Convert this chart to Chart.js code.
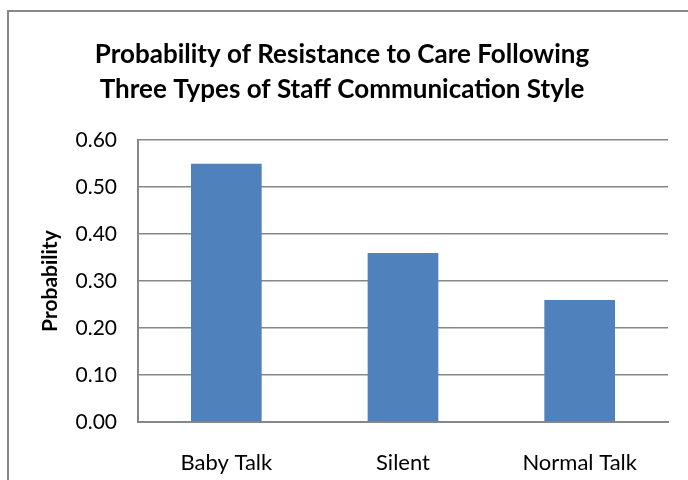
<!DOCTYPE html>
<html>
<head>
<meta charset="utf-8">
<script src="https://cdn.jsdelivr.net/npm/chart.js@4.4.0/dist/chart.umd.min.js"></script>
<style>
  html, body { margin: 0; padding: 0; background: #fff; }
  #wrap { width: 688px; height: 480px; }
</style>
</head>
<body>
<div id="wrap"><canvas id="chart" width="688" height="480"></canvas></div>
<script>
// chart data
const categories = ['Baby Talk', 'Silent', 'Normal Talk'];
const probabilities = [0.55, 0.36, 0.26];
const titleLines = ['Probability of Resistance to Care Following', 'Three Types of Staff Communication Style'];
const yAxisTitle = 'Probability';

const FONT = 'Lato, "Open Sans", sans-serif';
const GRAY = '#878787';

// outer frame like the Excel chart area border (right/bottom are cut off)
const framePlugin = {
    id: 'frame',
    beforeDraw(chart) {
        const ctx = chart.ctx;
        ctx.save();
        ctx.fillStyle = '#fff';
        ctx.fillRect(0, 0, chart.width, chart.height);
        ctx.strokeStyle = GRAY;
        ctx.lineWidth = 2;
        ctx.strokeRect(8, 11, 720, 520);
        ctx.restore();
    }
};

const ctx = document.getElementById('chart').getContext('2d');
new Chart(ctx, {
    type: 'bar',
    data: {
        labels: categories,
        datasets: [{
            label: yAxisTitle,
            data: probabilities,
            backgroundColor: '#4F81BD',
            borderWidth: 0,
            barPercentage: 0.4,
            categoryPercentage: 1
        }]
    },
    options: {
        responsive: false,
        animation: false,
        layout: { padding: { top: 0, right: 20, bottom: 0, left: 16 } },
        plugins: {
            legend: { display: false },
            tooltip: { enabled: false },
            title: {
                display: true,
                text: titleLines,
                color: '#000',
                font: { family: FONT, size: 26, weight: 'bold', lineHeight: 1.35 },
                padding: { top: 37, bottom: 33 }
            }
        },
        scales: {
            x: {
                grid: { display: false, drawTicks: false },
                border: { display: true, color: GRAY, width: 2 },
                ticks: { color: '#000', font: { family: FONT, size: 22 }, padding: 28 },
                afterFit(scale) { scale.height = 58; }
            },
            y: {
                min: 0,
                max: 0.6,
                grid: { color: GRAY, lineWidth: 1.5, drawTicks: false },
                border: { display: true, color: GRAY, width: 2 },
                ticks: {
                    stepSize: 0.1,
                    color: '#000',
                    padding: 21,
                    font: { family: FONT, size: 21 },
                    callback: v => v.toFixed(2)
                },
                title: {
                    display: true,
                    text: yAxisTitle,
                    color: '#000',
                    font: { family: FONT, size: 21, weight: 'bold' },
                    padding: { top: 22, bottom: 0 }
                },
                afterFit(scale) { scale.width = 122; }
            }
        }
    },
    plugins: [framePlugin]
});
</script>
</body>
</html>
